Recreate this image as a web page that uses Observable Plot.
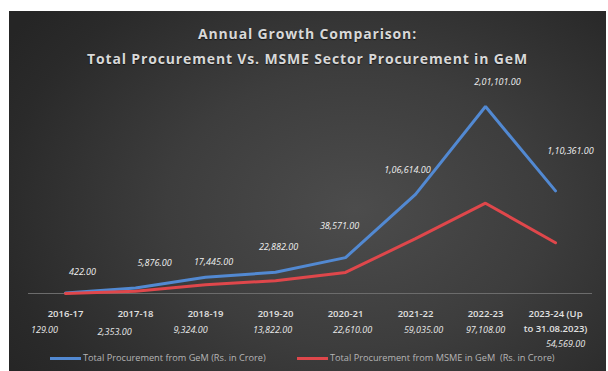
<!DOCTYPE html>
<html>
<head>
<meta charset="utf-8">
<script src="https://cdn.jsdelivr.net/npm/d3@7"></script>
<script src="https://cdn.jsdelivr.net/npm/@observablehq/plot@0.6"></script>
<style>
  html, body { margin: 0; padding: 0; background: #ffffff; }
  #chart {
    position: absolute; left: 9px; top: 11px; width: 597px; height: 360px; overflow: hidden;
    background: radial-gradient(ellipse 70% 85% at 58% 55%, #4c4c4c 0%, #3d3d3d 45%, #2a2a2a 85%, #252525 100%);
    font-family: "Open Sans", sans-serif;
  }
  .title {
    position: absolute; left: 0; width: 100%; text-align: center;
    font-weight: 700; font-size: 14px; letter-spacing: 0.85px; color: #d8d8d8;
    line-height: 18px; text-shadow: 0 1px 1px rgba(0,0,0,0.6);
  }
  #plot { position: absolute; left: 0; top: 60px; }
  #legend {
    position: absolute; top: 340px; left: 0; width: 100%; height: 14px;
    font-size: 9.2px; color: #b5b5b5; line-height: 14px;
  }
  .key { position: absolute; top: 0; display: flex; align-items: center; white-space: pre; }
  .swatch { display: inline-block; width: 31px; height: 3px; margin-right: 2px; }
</style>
</head>
<body>
<div id="chart">
  <div class="title" style="top:14px">Annual Growth Comparison:</div>
  <div class="title" style="top:39px">Total Procurement Vs. MSME Sector Procurement in GeM</div>
  <div id="plot"></div>
  <div id="legend"></div>
</div>
<script>
const categories = ["2016-17", "2017-18", "2018-19", "2019-20", "2020-21", "2021-22", "2022-23", "2023-24 (Up\nto 31.08.2023)"];
const totalGeM = [422, 5876, 17445, 22882, 38571, 106614, 201101, 110361];
const msmeGeM = [129, 2353, 9324, 13822, 22610, 59035, 97108, 54569];
const seriesNames = ["Total Procurement from GeM (Rs. in Crore)", "Total Procurement from MSME in GeM  (Rs. in Crore)"];
const seriesColors = ["#5289d2", "#df474b"];

// label nudges (styling only)
const totalNudge = [[17,-21],[19,-25],[8,-15],[3,-25],[-6,-32],[-8,-24],[12,-24],[15,-40]];
const msmeNudge = [[-21,37],[-21,39],[-15,37],[-3,37],[7,37],[8,37],[0,37],[10,51]];

function fmtIN(v) {
  const s = String(Math.round(v));
  let head = s.slice(0, -3), tail = s.slice(-3);
  if (head.length > 0) {
    head = head.replace(/\B(?=(\d{2})+(?!\d))/g, ",");
    tail = head + "," + tail;
  }
  return tail + ".00";
}

const rows = [];
categories.forEach((c, i) => {
  rows.push({cat: c, value: totalGeM[i], series: seriesNames[0], i});
  rows.push({cat: c, value: msmeGeM[i], series: seriesNames[1], i});
});
const totalRows = rows.filter(d => d.series === seriesNames[0]);
const msmeRows = rows.filter(d => d.series === seriesNames[1]);

const labelMarks = [];
totalRows.forEach((d, k) => {
  labelMarks.push(Plot.text([d], {
    x: "cat", y: "value", text: v => fmtIN(v.value),
    dx: totalNudge[k][0], dy: totalNudge[k][1],
    fill: "#efefef", fontSize: 9, fontStyle: "italic", fontFamily: "Open Sans"
  }));
});
msmeRows.forEach((d, k) => {
  labelMarks.push(Plot.text([d], {
    x: "cat", y: 0, text: v => fmtIN(v.value),
    dx: msmeNudge[k][0], dy: msmeNudge[k][1],
    fill: "#e8e8e8", fontSize: 9, fontStyle: "italic", fontFamily: "Open Sans"
  }));
});

const chart = Plot.plot({
  width: 597,
  height: 280,
  marginLeft: 19,
  marginRight: 14,
  marginTop: 35,
  marginBottom: 58,
  style: {background: "transparent", fontFamily: "Open Sans", overflow: "visible"},
  x: {type: "point", domain: categories, padding: 0.5, axis: null},
  y: {domain: [0, d3.max(totalGeM)], axis: null},
  color: {domain: seriesNames, range: seriesColors},
  marks: [
    Plot.ruleY([0], {stroke: "#6c6c6c", strokeWidth: 1}),
    Plot.text(categories, {
      x: d => d, y: 0, text: d => d, dy: 12, lineAnchor: "top", lineHeight: 1.65,
      fill: "#e2e2e2", fontSize: 9.5, fontWeight: 600, fontFamily: "Open Sans"
    }),
    Plot.line(rows, {
      x: "cat", y: "value", z: "series", stroke: "series",
      strokeWidth: 3, strokeLinejoin: "miter", strokeLinecap: "round"
    }),
    ...labelMarks
  ]
});
document.getElementById("plot").appendChild(chart);

const legend = document.getElementById("legend");
const keyLefts = [41, 288];
seriesNames.forEach((name, i) => {
  const k = document.createElement("div");
  k.className = "key";
  k.style.left = keyLefts[i] + "px";
  const sw = document.createElement("span");
  sw.className = "swatch";
  sw.style.background = seriesColors[i];
  const t = document.createElement("span");
  t.textContent = name;
  k.appendChild(sw); k.appendChild(t);
  legend.appendChild(k);
});
</script>
</body>
</html>
